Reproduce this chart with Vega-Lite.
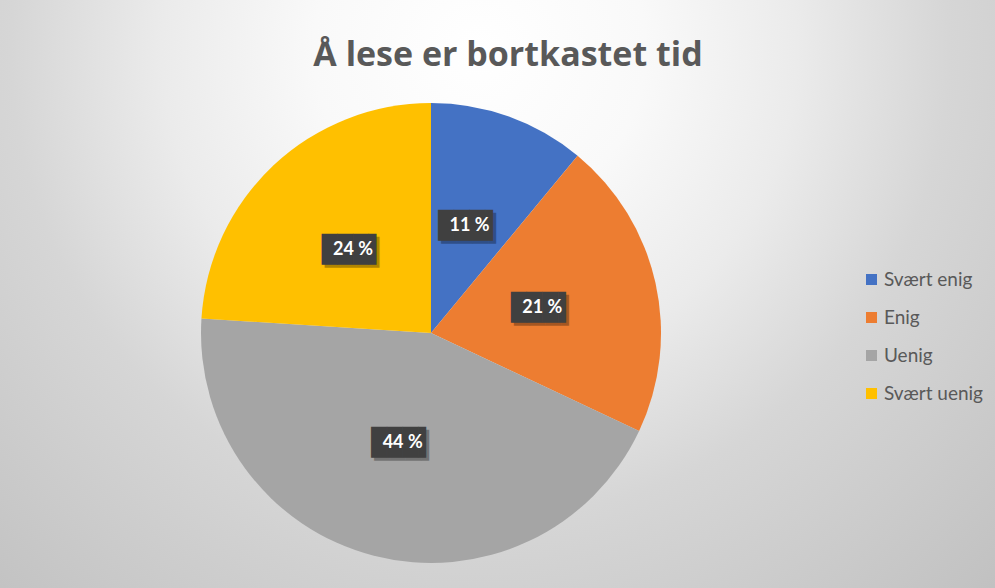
{
  "$schema": "https://vega.github.io/schema/vega-lite/v6.json",
  "autosize": {"type": "none"},
  "width": 460,
  "height": 460,
  "padding": {"left": 201, "top": 103, "right": 334, "bottom": 25},
  "background": "#ffffff",
  "config": {"view": {"stroke": null}},
  "title": {
    "text": "Å lese er bortkastet tid",
    "font": "Open Sans",
    "fontSize": 34,
    "fontWeight": "bold",
    "color": "#595959",
    "anchor": "middle",
    "frame": "group",
    "dx": 77,
    "dy": 672,
    "offset": 32,
    "zindex": 1
  },
  "data": {
    "values": [
      {"svar": "Svært enig", "andel": 11, "rekkefolge": 1, "etikett": "11 %"},
      {"svar": "Enig", "andel": 21, "rekkefolge": 2, "etikett": "21 %"},
      {"svar": "Uenig", "andel": 44, "rekkefolge": 3, "etikett": "44 %"},
      {"svar": "Svært uenig", "andel": 24, "rekkefolge": 4, "etikett": "24 %"}
    ]
  },
  "layer": [
    {
      "data": {"values": [{"bakgrunn": 1}]},
      "mark": {
        "type": "arc",
        "theta": 0,
        "theta2": 6.2832,
        "outerRadius": 900,
        "innerRadius": 0,
        "color": {
          "gradient": "radial",
          "x1": 0.527, "y1": 0.343, "r1": 0,
          "x2": 0.527, "y2": 0.343, "r2": 0.42,
          "stops": [
            {"offset": 0, "color": "#ffffff"},
            {"offset": 0.22, "color": "#f9f9f9"},
            {"offset": 0.42, "color": "#ebebeb"},
            {"offset": 0.62, "color": "#d6d6d6"},
            {"offset": 0.95, "color": "#c3c3c3"},
            {"offset": 1, "color": "#c0c0c0"}
          ]
        }
      },
      "encoding": {}
    },
    {
      "mark": {"type": "arc", "outerRadius": 230},
      "encoding": {
        "theta": {"field": "andel", "type": "quantitative", "stack": true},
        "order": {"field": "rekkefolge", "type": "quantitative"},
        "color": {
          "field": "svar",
          "type": "nominal",
          "scale": {
            "domain": ["Svært enig", "Enig", "Uenig", "Svært uenig"],
            "range": ["#4472C4", "#ED7D31", "#A5A5A5", "#FFC000"]
          },
          "legend": {
            "title": null,
            "orient": "none",
            "legendX": 661,
            "legendY": 167,
            "symbolType": "square",
            "symbolSize": 121,
            "symbolStrokeWidth": 0,
            "labelFont": "Lato",
            "labelFontSize": 19,
            "labelColor": "#595959",
            "labelOffset": 3,
            "rowPadding": 18,
            "zindex": 1
          }
        }
      }
    },
    {
      "mark": {"type": "text", "radius": 114, "font": "DejaVu Sans Mono", "fontSize": 26, "baseline": "middle", "align": "center", "color": "#000000", "opacity": 0.3, "dx": 3, "dy": 3},
      "encoding": {
        "theta": {"field": "andel", "type": "quantitative", "stack": true},
        "order": {"field": "rekkefolge", "type": "quantitative"},
        "text": {"value": "███▌"}
      }
    },
    {
      "mark": {"type": "text", "radius": 114, "font": "DejaVu Sans Mono", "fontSize": 26, "baseline": "middle", "align": "center", "color": "#404040"},
      "encoding": {
        "theta": {"field": "andel", "type": "quantitative", "stack": true},
        "order": {"field": "rekkefolge", "type": "quantitative"},
        "text": {"value": "███▌"}
      }
    },
    {
      "mark": {"type": "text", "radius": 114, "font": "Lato", "fontSize": 18, "fontWeight": "bold", "baseline": "middle", "align": "center", "color": "#ffffff"},
      "encoding": {
        "theta": {"field": "andel", "type": "quantitative", "stack": true},
        "order": {"field": "rekkefolge", "type": "quantitative"},
        "text": {"field": "etikett", "type": "nominal"}
      }
    }
  ]
}
